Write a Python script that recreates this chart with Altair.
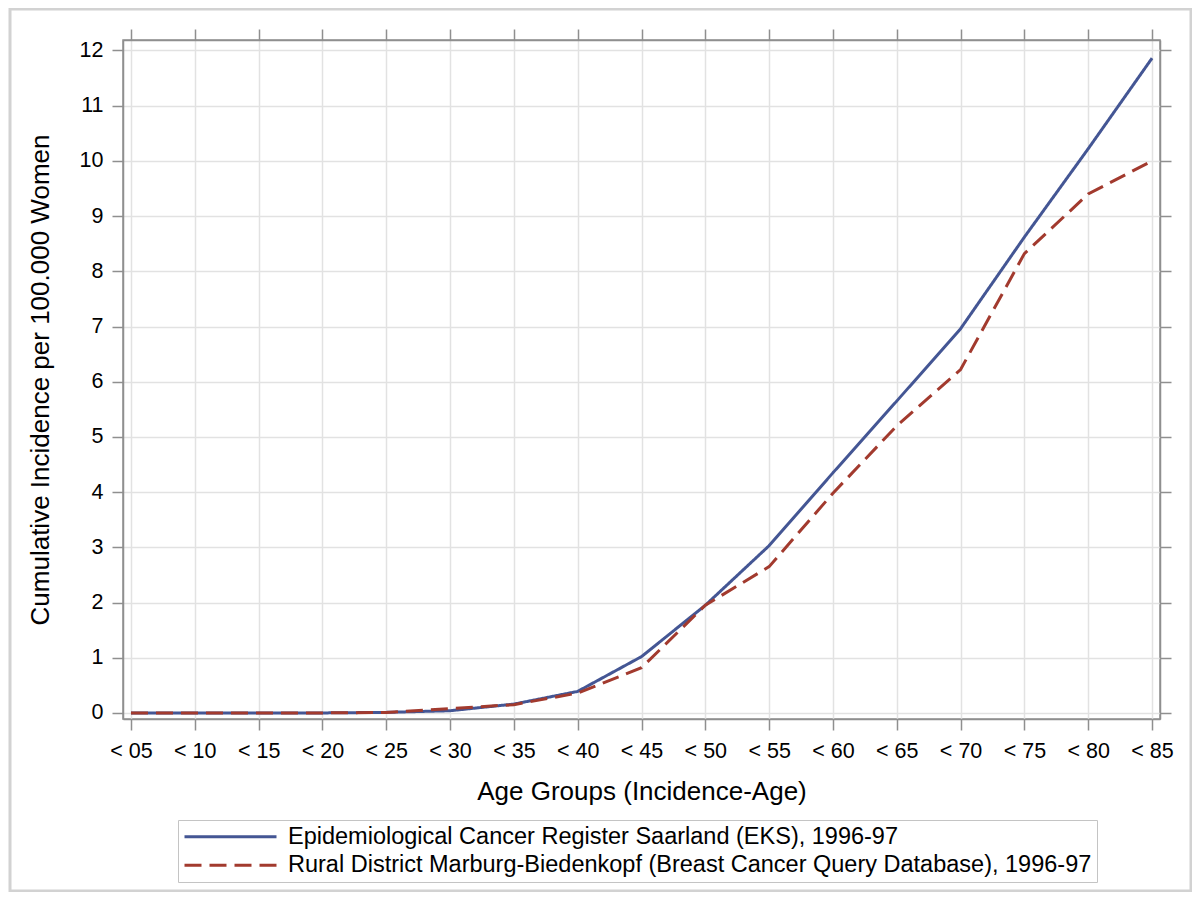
import altair as alt
import pandas as pd

categories = ["< 05", "< 10", "< 15", "< 20", "< 25", "< 30", "< 35", "< 40", "< 45",
              "< 50", "< 55", "< 60", "< 65", "< 70", "< 75", "< 80", "< 85"]
eks_values = [0.0, 0.0, 0.0, 0.0, 0.01, 0.04, 0.16, 0.39, 1.02, 1.95, 3.03, 4.35, 5.65,
              6.96, 8.62, 10.22, 11.86]
mbk_values = [0.0, 0.0, 0.0, 0.0, 0.01, 0.08, 0.15, 0.36, 0.82, 1.95, 2.65, 3.98, 5.2,
              6.22, 8.32, 9.4, 10.0]
series_names = ["Epidemiological Cancer Register Saarland (EKS), 1996-97",
                "Rural District Marburg-Biedenkopf (Breast Cancer Query Database), 1996-97"]
series_colors = ["#445694", "#A23A2E"]
series_dashes = [[1, 0], [17, 8]]
y_ticks = list(range(0, 13))

rows = []
for name, vals in zip(series_names, [eks_values, mbk_values]):
    for c, v in zip(categories, vals):
        rows.append({"age": c, "value": v, "series": name})
df = pd.DataFrame(rows)

W, H = 1037, 679
FONT = "Liberation Sans"
x_scale = alt.Scale(type="point", domain=categories, padding=0.125)
y_scale = alt.Scale(domain=[-0.11, 12.19], nice=False, zero=False)

frame = alt.Chart(pd.DataFrame({"a": [0]})).mark_rect(
    fill="transparent", stroke="#d2d2d2", strokeWidth=3
).encode(
    x=alt.value(-113), x2=alt.value(W + 31), y=alt.value(-31), y2=alt.value(H + 172)
)

lines = alt.Chart(df).mark_line(strokeWidth=3).encode(
    x=alt.X("age:N", scale=x_scale, sort=categories,
            axis=alt.Axis(title="Age Groups (Incidence-Age)", orient="bottom", grid=True,
                          labelPadding=10, titlePadding=17, labelAngle=0)),
    y=alt.Y("value:Q", scale=y_scale,
            axis=alt.Axis(title="Cumulative Incidence per 100.000 Women", orient="left",
                          values=y_ticks, grid=True, labelPadding=9, titlePadding=26)),
    color=alt.Color("series:N", scale=alt.Scale(domain=series_names, range=series_colors),
                    legend=alt.Legend(title=None)),
    strokeDash=alt.StrokeDash("series:N", scale=alt.Scale(domain=series_names, range=series_dashes),
                              legend=alt.Legend(title=None)),
)

mirror = alt.Chart(df).mark_line(opacity=0).encode(
    x=alt.X("age:N", scale=x_scale, sort=categories,
            axis=alt.Axis(orient="top", labels=False, title=None, grid=False)),
    y=alt.Y("value:Q", scale=y_scale,
            axis=alt.Axis(orient="right", values=y_ticks, labels=False, title=None, grid=False)),
)

chart = alt.layer(frame, lines, mirror).resolve_axis(
    x="independent", y="independent"
).properties(
    width=W, height=H, autosize="none",
    padding={"left": 115, "top": 32, "right": 32, "bottom": 173},
).configure_view(
    stroke="#8f8f8f", strokeWidth=1.5
).configure_axis(
    domainColor="#8f8f8f", domainWidth=1.5, tickColor="#8f8f8f", tickSize=11, tickWidth=1.5,
    labelFont=FONT, labelFontSize=21.5, labelColor="black",
    titleFont=FONT, titleFontSize=26, titleFontWeight="normal", titleColor="black",
    gridColor="#e2e2e2", gridWidth=1.5,
).configure_legend(
    orient="none", legendX=55, legendY=780, padding=5, strokeColor="#c4c4c4",
    fillColor="white", labelFont=FONT, labelFontSize=23.5, labelColor="black",
    labelLimit=2000, labelOffset=10, symbolType="stroke", symbolSize=8464,
    symbolStrokeWidth=3, rowPadding=3.5, clipHeight=23.5, cornerRadius=0,
)

chart.save("out.html", embed_options={"renderer": "svg", "actions": False})
